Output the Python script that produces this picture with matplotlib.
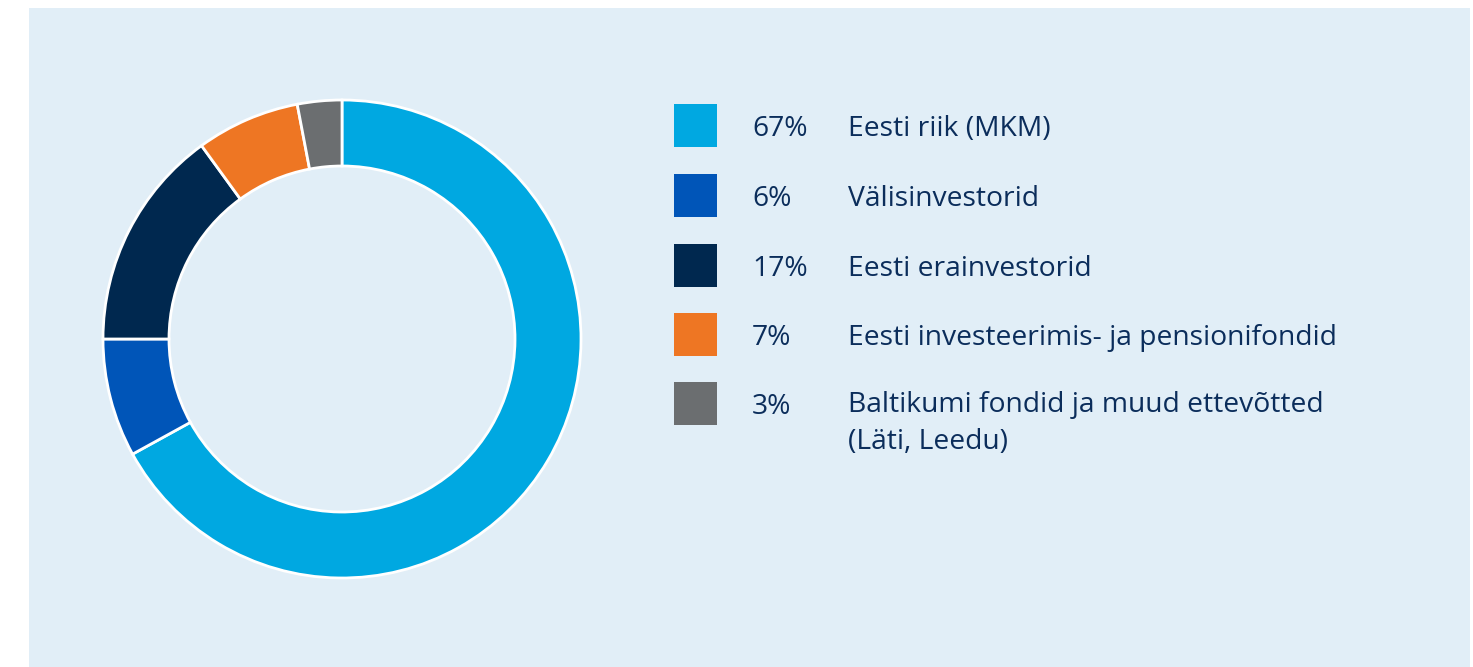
import matplotlib.pyplot as plt
from matplotlib.patches import Rectangle

# drawn shares (read from the ring) and the printed labels
shares = [67, 8, 15, 7, 3]
pct_labels = ["67%", "6%", "17%", "7%", "3%"]
names = ["Eesti riik (MKM)", "Välisinvestorid", "Eesti erainvestorid",
         "Eesti investeerimis- ja pensionifondid",
         "Baltikumi fondid ja muud ettevõtted\n(Läti, Leedu)"]
colors = ["#00a8e1", "#0055b8", "#00284f", "#ee7623", "#6b6e70"]

W, H = 1473, 667
fig = plt.figure(figsize=(W / 100, H / 100), dpi=100)
fig.patch.set_facecolor("white")

# light blue panel (own axes underneath everything)
bg = fig.add_axes([29 / W, 0, 1441 / W, (H - 8) / H], zorder=-5)
bg.set_facecolor("#e1eef7")
bg.set_xticks([])
bg.set_yticks([])
for s in bg.spines.values():
    s.set_visible(False)

# donut
cx, cy, half = 342, H - 339, 240
ax = fig.add_axes([(cx - half) / W, (cy - half) / H, 2 * half / W, 2 * half / H])
r = 239 / half
ax.pie(shares, colors=colors, startangle=90, counterclock=False, radius=r,
       wedgeprops=dict(width=66 / half, edgecolor="white", linewidth=2))
ax.set_xlim(-1, 1)
ax.set_ylim(-1, 1)
ax.set_aspect("equal")
ax.axis("off")

# legend
txt = "#0b2d5b"
row_y = [125, 195, 265, 334, 403]
fs = 20.3
for y, c, p, n in zip(row_y, colors, pct_labels, names):
    fig.patches.append(Rectangle((674 / W, (H - y - 21.5) / H), 43 / W, 43 / H,
                                 transform=fig.transFigure, facecolor=c,
                                 edgecolor="none"))
    fig.text(752 / W, (H - y - 4) / H, p, fontsize=fs, color=txt,
             va="center", ha="left", family="Open Sans")
    if "\n" in n:
        fig.text(848 / W, (H - y + 12) / H, n, fontsize=fs, color=txt,
                 va="top", ha="left", family="Open Sans", linespacing=1.45)
    else:
        fig.text(848 / W, (H - y - 4) / H, n, fontsize=fs, color=txt,
                 va="center", ha="left", family="Open Sans")

fig.savefig("out.png", dpi=100)
